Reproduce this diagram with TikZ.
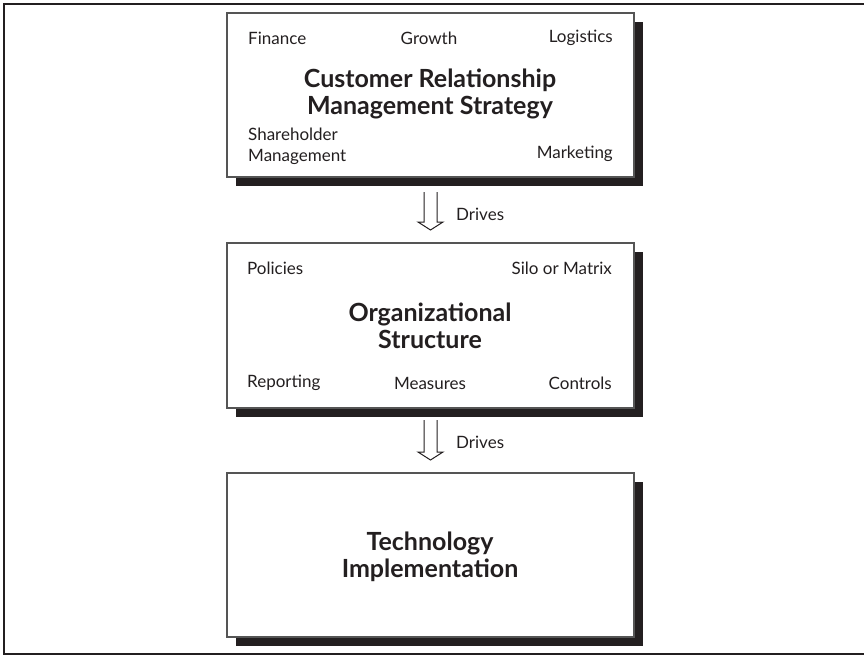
\documentclass[tikz,border=0pt]{standalone}
\usepackage{fontspec}
\setmainfont{Lato}
\usetikzlibrary{shadows}
\definecolor{ink}{HTML}{231F20}
\definecolor{edge}{HTML}{555555}
\tikzset{
  box/.style={draw=edge, line width=1.2pt, fill=white, minimum width=407pt, minimum height=164pt,
    inner sep=0pt, drop shadow={shadow xshift=9pt, shadow yshift=-9pt, fill=ink, opacity=1}},
  lbl/.style={font=\fontsize{17}{21.5}\selectfont, text=ink, inner sep=0pt, align=left},
  ttl/.style={font=\fontsize{25}{26.5}\selectfont\bfseries, text=ink, inner sep=0pt, align=center},
  blk/.style={draw=ink, line width=1pt, line join=miter}
}
\begin{document}
\begin{tikzpicture}[x=1pt, y=-1pt]
\useasboundingbox (0,0) rectangle (864,656);
% outer frame
\draw[ink, line width=2pt] (864,4) -- (4,4) -- (4,654) -- (864,654);
% boxes
\node[box] (b1) at (430.5,95) {};
\node[box, minimum height=165pt] (b2) at (430.5,325.5) {};
\node[box] (b3) at (430.5,555) {};
% box 1 texts
\node[lbl, anchor=west] (fin) at (248,38) {Finance};
\node[lbl] (gro) at (429,38) {Growth};
\node[lbl, anchor=east] (log) at (613,38) {Logistics};
\node[ttl] (t1) at (430,94) {Customer Relationship\\Management Strategy};
\node[lbl, anchor=west] (sh) at (248,146.5) {Shareholder\\Management};
\node[lbl, anchor=east] (mkt) at (613,154) {Marketing};
% box 2 texts
\node[lbl, anchor=west] (pol) at (247,268) {Policies};
\node[lbl, anchor=east] (silo) at (612,268) {Silo or Matrix};
\node[ttl] (t2) at (430,326) {Organizational\\Structure};
\node[lbl, anchor=west] (rep) at (247,383) {Reporting};
\node[lbl] (mea) at (430,383) {Measures};
\node[lbl, anchor=east] (con) at (612,383) {Controls};
% box 3 text
\node[ttl] (t3) at (430,557) {Technology\\Implementation};
% arrows
\coordinate (a1) at (430.5,192);
\coordinate (a2) at (430.5,420);
\draw[blk] ([xshift=-6.5pt]a1) -- ++(0,30) -- ++(-6,0) -- ++(12.5,8) -- ++(12.5,-8) -- ++(-6,0) -- ++(0,-30);
\draw[blk] ([xshift=-6.5pt]a2) -- ++(0,32) -- ++(-6,0) -- ++(12.5,8) -- ++(12.5,-8) -- ++(-6,0) -- ++(0,-32);
\node[lbl, anchor=west] (d1) at (456,214) {Drives};
\node[lbl, anchor=west] (d2) at (456,442) {Drives};
\end{tikzpicture}
\end{document}
